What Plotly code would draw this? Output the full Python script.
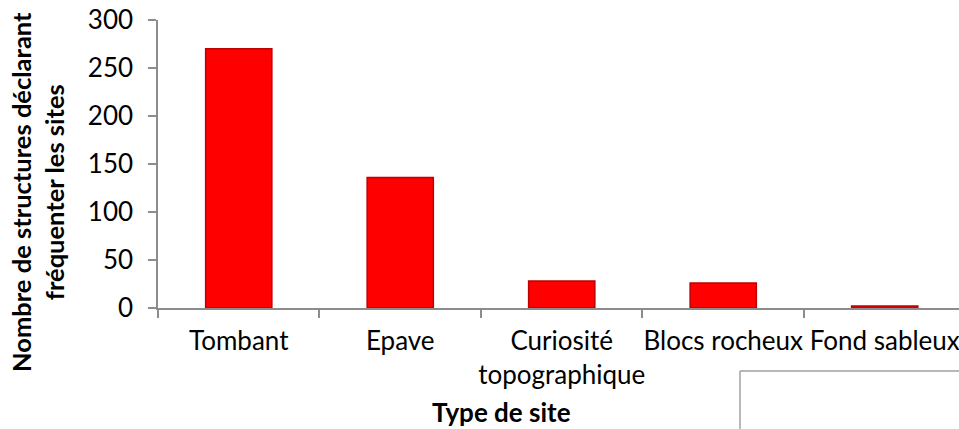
import plotly.graph_objects as go

categories = ["Tombant", "Epave", "Curiosité<br>topographique", "Blocs rocheux", "Fond sableux"]
values = [270, 136, 28, 26, 2]
y_ticks = [0, 50, 100, 150, 200, 250, 300]

W, H = 959, 429
L, T, B = 158, 20, 121
PW = W - L
PH = H - T - B

def px_x(x):
    return (x - L) / PW

def px_y(y):
    return (H - B - y) / PH

AX = "#8C8C8C"
FONT = "Lato"
FS = 26

fig = go.Figure(go.Bar(
    x=categories, y=values, width=0.41,
    marker=dict(color="#FF0000", line=dict(color="#C00000", width=1.5)),
))

fig.update_layout(
    width=W, height=H,
    margin=dict(l=L, r=0, t=T, b=B, autoexpand=False),
    paper_bgcolor="white", plot_bgcolor="white",
    showlegend=False,
    font=dict(family=FONT, size=FS, color="black"),
    xaxis=dict(
        range=[-0.5, 4.46], showline=True, linecolor=AX, linewidth=1.5,
        ticks="outside", tickson="boundaries", ticklen=8, tickcolor=AX, tickwidth=1.5,
        showgrid=False, zeroline=False, ticklabelstandoff=9, tickangle=0,
        automargin=False, tickfont=dict(family=FONT, size=FS),
    ),
    yaxis=dict(
        range=[0, 300], tickvals=y_ticks, showline=True, linecolor=AX, linewidth=1.5,
        ticks="outside", ticklen=8, tickcolor=AX, tickwidth=1.5,
        showgrid=False, zeroline=False, ticklabelstandoff=10,
        automargin=False, tickfont=dict(family=FONT, size=FS),
    ),
    annotations=[
        dict(text="<b>Nombre de structures déclarant<br>fréquenter les sites</b>",
             textangle=-90, xref="paper", yref="paper", x=px_x(37), y=px_y(192),
             xanchor="center", yanchor="middle", showarrow=False,
             font=dict(family=FONT, size=25.5, color="black")),
        dict(text="<b>Type de site</b>", xref="paper", yref="paper",
             x=px_x(501), y=px_y(412), xanchor="center", yanchor="middle",
             showarrow=False, font=dict(family=FONT, size=FS, color="black")),
    ],
    shapes=[
        dict(type="line", xref="paper", yref="paper", x0=px_x(740), x1=px_x(740),
             y0=px_y(371), y1=px_y(432), line=dict(color="#A0A0A0", width=1.5)),
        dict(type="line", xref="paper", yref="paper", x0=px_x(740), x1=px_x(962),
             y0=px_y(371), y1=px_y(371), line=dict(color="#A0A0A0", width=1.5)),
    ],
)

fig.write_html("out.html", config={"displayModeBar": False},
               post_script="document.body.style.margin='0';document.body.style.overflow='hidden';")
